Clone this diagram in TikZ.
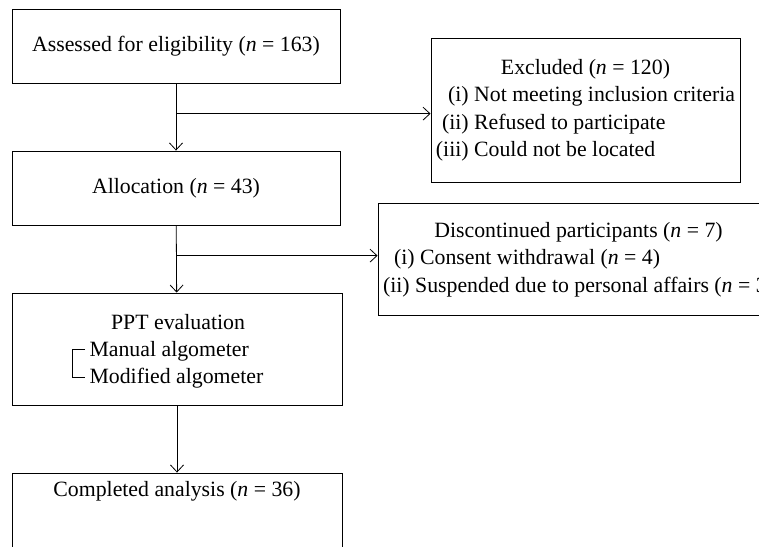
\documentclass[tikz,border=0pt]{standalone}
\usepackage{fontspec}
\setmainfont{Liberation Serif}
\usetikzlibrary{arrows.meta,calc}
\tikzset{
  box/.style={draw, line width=0.9pt, minimum width=328pt, inner sep=0pt},
  freccia/.style={line width=0.8pt, -{Straight Barb[length=7pt,width=13pt]}},
  linea/.style={line width=0.8pt}
}
\begin{document}
\begin{tikzpicture}[x=1pt,y=-1pt,font=\fontsize{21.8}{27.5}\selectfont]
\clip (0,0) rectangle (759,546);

% colonna sinistra
\node[box, minimum height=74pt] (assessed) at (176,46) {Assessed for eligibility (\textit{n} = 163)};
\node[box, minimum height=74pt] (alloc) at (176,188) {Allocation (\textit{n} = 43)};

\node[box, minimum width=330pt, minimum height=112pt] (ppt) at (177,349) {};
\node (ppttit) at (178,322) {PPT evaluation};
\node[anchor=west, align=left] (pptlist) at (86,365) {Manual algometer\\Modified algometer};
\draw[linea] (85,349) -- (72,349) -- (72,377) -- (85,377);

\node[box, minimum width=330pt, minimum height=74pt] (done) at (177,510) {};
\node (donetxt) at (177,491) {Completed analysis (\textit{n} = 36)};

% box a destra
\node[box, minimum width=309pt, minimum height=144pt] (excl) at (585.5,110) {%
  \begin{tabular}{@{}r@{ }l@{}}
  \multicolumn{2}{c}{Excluded (\textit{n} = 120)}\\
  (i) & Not meeting inclusion criteria\\
  (ii) & Refused to participate\\
  (iii) & Could not be located
  \end{tabular}};
\node[box, minimum width=401pt, minimum height=112pt] (disc) at (578.5,259) {%
  \begin{tabular}{@{}l@{}}
  \multicolumn{1}{c}{Discontinued participants (\textit{n} = 7)}\\
  \hspace{11pt}(i) Consent withdrawal (\textit{n} = 4)\\
  (ii) Suspended due to personal affairs (\textit{n} = 3)
  \end{tabular}};

% frecce
\draw[freccia] (assessed) -- (alloc);
\coordinate (b1) at ($(assessed.south)!0.45!(alloc.north)$);
\draw[freccia] (b1) -- (b1 -| excl.west);
\draw[freccia] (alloc) -- (ppt);
\coordinate (b2) at ($(alloc.south)!0.45!(ppt.north)$);
\draw[freccia] (b2) -- (b2 -| disc.west);
\draw[freccia] (ppt) -- (done);

\end{tikzpicture}
\end{document}
